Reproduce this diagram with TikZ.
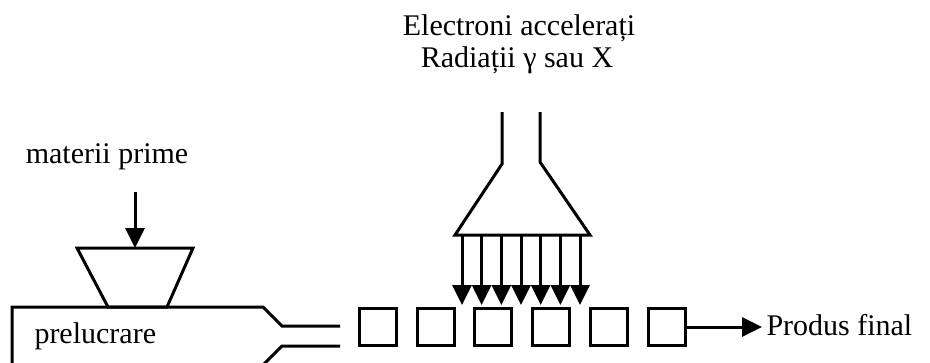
\documentclass[tikz,border=0pt]{standalone}
\usepackage{fontspec}
\setmainfont{Liberation Serif}
\usetikzlibrary{arrows.meta}
\begin{document}
\begin{tikzpicture}[x=1pt,y=-1pt,
  line width=3pt, line join=miter,
  lbl/.style={font=\fontsize{30}{36}\selectfont, inner sep=0pt, anchor=base},
  piece/.style={draw, minimum width=37pt, minimum height=37pt, inner sep=0pt},
  arr/.style={-{Triangle[length=20pt,width=19pt]}},
]
\useasboundingbox (0,0) rectangle (930,362);
\clip (0,0) rectangle (930,362);

% texts
\node[lbl] (el) at (519,35) {Electroni accelerați};
\node[lbl] (rad) at (517,67) {Radiații γ sau X};
\node[lbl] (mp) at (107,163) {materii prime};
\node[lbl, anchor=base west] (pr) at (33,343) {prelucrare};
\node[lbl, anchor=base west] (pf) at (765,335) {Produs final};

% hopper
\draw (77,248) -- (193,248) -- (167,307) -- (108,307) -- cycle;
\coordinate (hoptop) at (135,248);
\coordinate (mpstart) at (135,192);
\draw[arr] (mpstart) -- (hoptop);

% processing unit with outlet channel
\draw (12,364) -- (12,307) -- (263,307) -- (282,326) -- (340,326);
\draw (340,346) -- (282,346) -- (264,364);

% products
\foreach \i/\x in {1/378,2/435.7,3/493.4,4/551.1,5/608.8,6/666.5}
  \node[piece] (b\i) at (\x,327) {};
\draw[arr, shorten >=3pt] (b6.east) -- (b6.east -| pf.west);

% irradiation head
\draw (502,112) -- (502,164) -- (455,235) -- (590,235) -- (540,162) -- (540,112);
\foreach \i in {0,...,6}{
  \coordinate (s\i) at ({462+19.67*\i},235);
  \coordinate (t\i) at ({462+19.67*\i},305);
  \draw[arr] (s\i) -- (t\i);
}
\end{tikzpicture}
\end{document}
